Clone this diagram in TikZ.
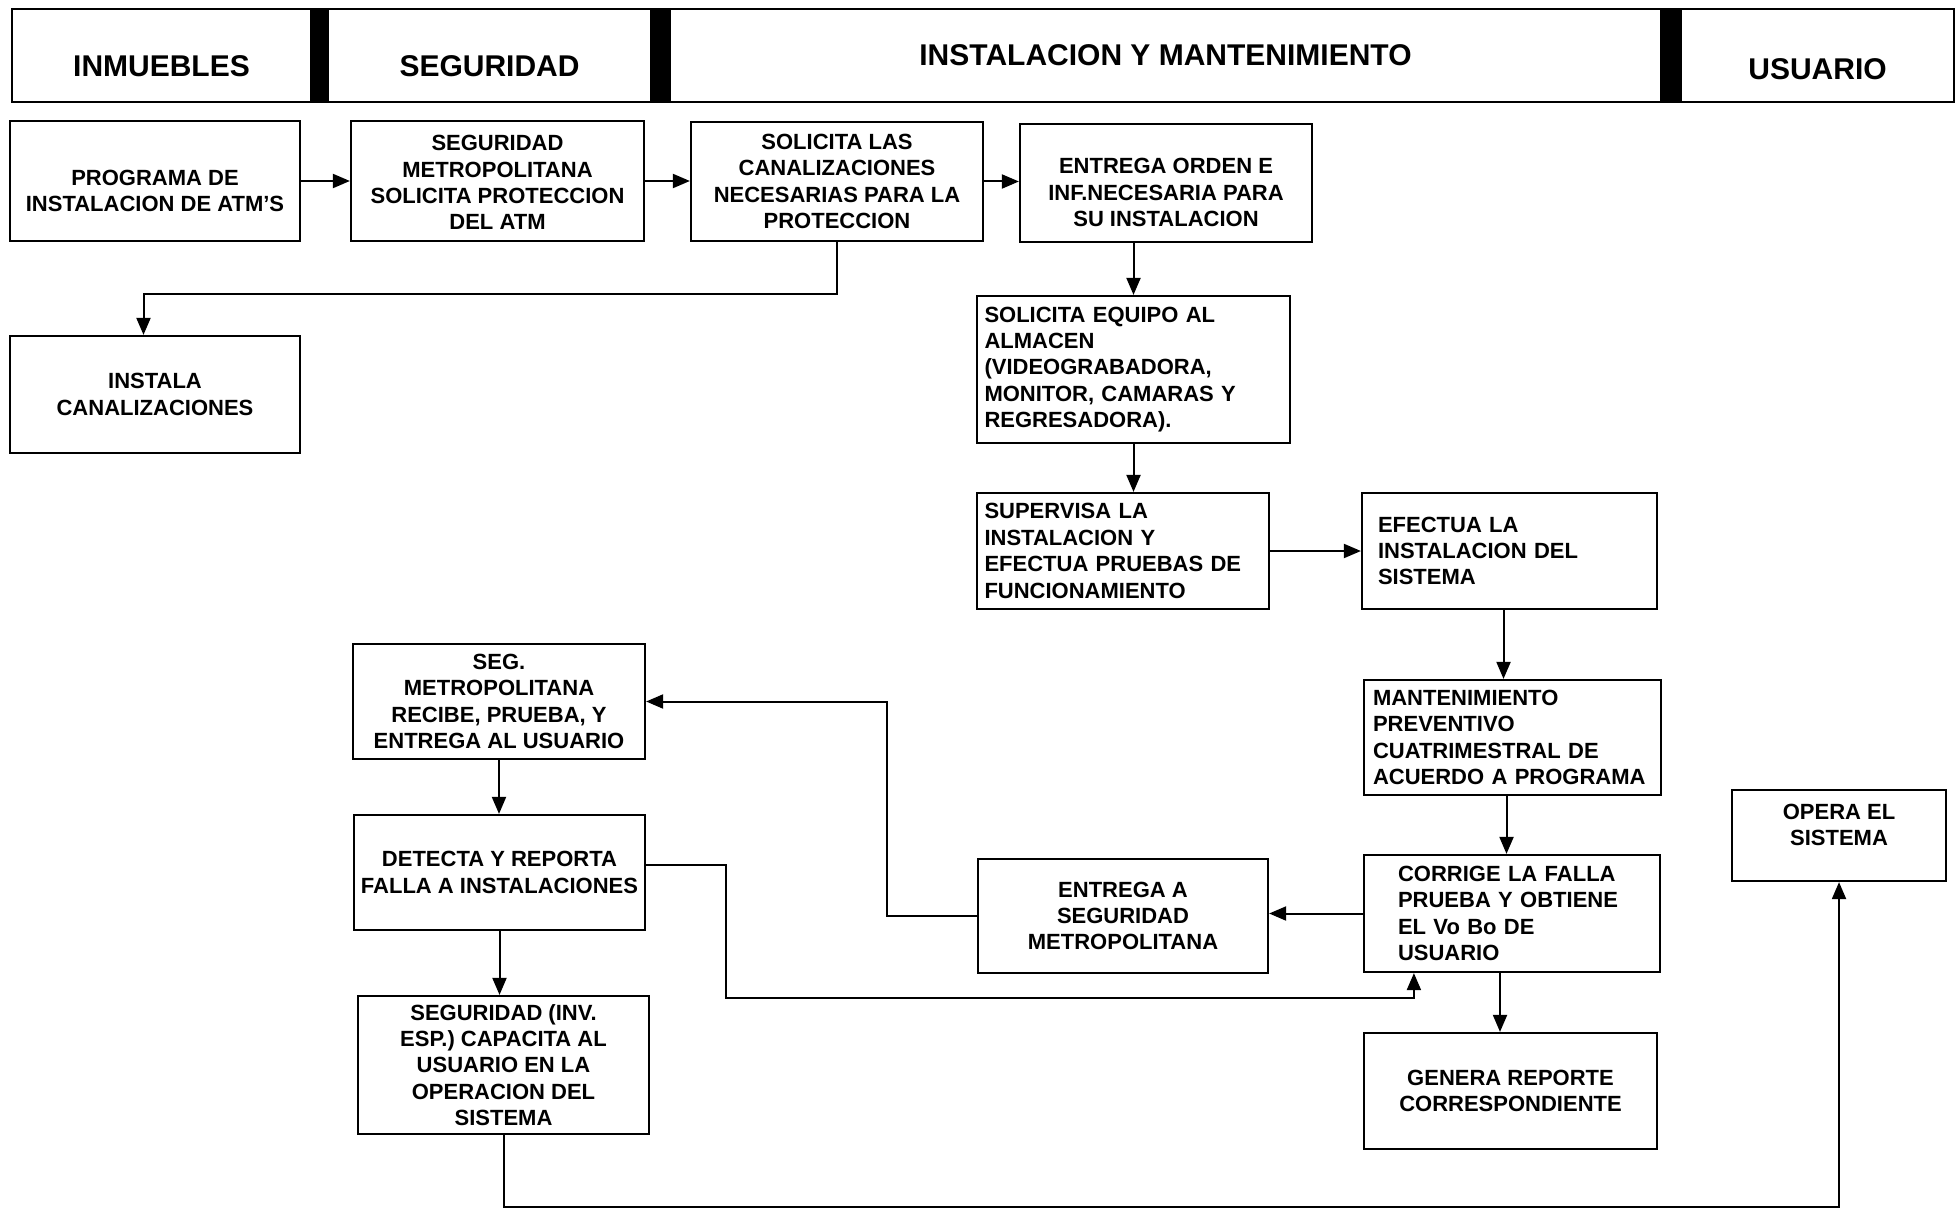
\documentclass[tikz,border=0pt]{standalone}
\usepackage{fontspec}
\setmainfont{Liberation Sans}
\usetikzlibrary{arrows.meta}
\newcommand{\movetxt}[2]{\raisebox{#1}[\height][\depth]{\begin{tabular}{@{}c@{}}#2\end{tabular}}}

\begin{document}
\begin{tikzpicture}[x=0.5pt,y=-0.5pt,>={Triangle[length=8.5pt,width=7pt]},
 box/.style 2 args={draw,line width=1.1pt,inner sep=2pt,minimum width=#1,minimum height=#2,align=center,font=\bfseries\fontsize{11}{13.2}\selectfont},
 lbox/.style n args={3}{box={#1}{#2},align=left,text width=#3},
 hdr/.style={draw,line width=1.1pt,inner sep=0pt,minimum height=46.5pt,font=\bfseries\fontsize{15}{18}\selectfont},
 arr/.style={->,line width=1pt}]
\useasboundingbox (0,0) rectangle (1957,1208);
\node[hdr,minimum width=149.5pt,text height=20.7pt,text depth=0pt] (inm) at (161.5,55.5) {INMUEBLES};
\node[hdr,minimum width=161.5pt,text height=20.7pt,text depth=0pt] (seg) at (489.5,55.5) {SEGURIDAD};
\node[hdr,minimum width=495.5pt] (inst) at (1165.5,55.5) {INSTALACION Y MANTENIMIENTO};
\node[hdr,minimum width=136.5pt,text height=24.2pt,text depth=0pt] (usu) at (1817.5,55.5) {USUARIO};
\fill (inm.north east) rectangle (seg.south west);
\fill (seg.north east) rectangle (inst.south west);
\fill (inst.north east) rectangle (usu.south west);
\node[box={145pt}{60pt}] (prog) at (155,181) {\movetxt{-6pt}{PROGRAMA DE\\INSTALACION DE ATM'S}};
\node[box={146.5pt}{60pt}] (segmet) at (497.5,181) {\movetxt{-2pt}{SEGURIDAD\\METROPOLITANA\\SOLICITA PROTECCION\\DEL ATM}};
\node[box={146pt}{59.5pt}] (solcan) at (837,181.5) {SOLICITA LAS\\CANALIZACIONES\\NECESARIAS PARA LA\\PROTECCION};
\node[box={146pt}{59pt}] (entorden) at (1166,183) {\movetxt{-6pt}{ENTREGA ORDEN E\\INF.NECESARIA PARA\\SU INSTALACION}};
\node[box={145pt}{58.5pt}] (instcan) at (155,394.5) {INSTALA\\CANALIZACIONES};
\node[lbox={156.5pt}{73.5pt}{149pt}] (solequip) at (1133.5,369.5) {SOLICITA EQUIPO AL\\ALMACEN\\(VIDEOGRABADORA,\\MONITOR, CAMARAS Y\\REGRESADORA).};
\node[lbox={146pt}{58pt}{138.5pt}] (superv) at (1123,551) {SUPERVISA LA\\INSTALACION Y\\EFECTUA PRUEBAS DE\\FUNCIONAMIENTO};
\node[lbox={147.5pt}{58pt}{131.5pt}] (efectua) at (1509.5,551) {EFECTUA LA\\INSTALACION DEL\\SISTEMA};
\node[lbox={148.5pt}{57.5pt}{139.5pt}] (mantprev) at (1512.5,737.5) {MANTENIMIENTO\\PREVENTIVO\\CUATRIMESTRAL DE\\ACUERDO A PROGRAMA};
\node[lbox={148pt}{58.5pt}{114pt}] (corrige) at (1512,913.5) {CORRIGE LA FALLA\\PRUEBA Y OBTIENE\\EL Vo Bo DE\\USUARIO};
\node[box={146.5pt}{58pt}] (genera) at (1510.5,1091) {GENERA REPORTE\\CORRESPONDIENTE};
\node[box={107pt}{45.5pt}] (opera) at (1839,835.5) {\movetxt{4pt}{OPERA EL\\SISTEMA}};
\node[box={145pt}{57pt}] (entregaseg) at (1123,916) {ENTREGA A\\SEGURIDAD\\METROPOLITANA};
\node[box={146pt}{57.5pt}] (segrecibe) at (499,701.5) {SEG.\\METROPOLITANA\\RECIBE, PRUEBA, Y\\ENTREGA AL USUARIO};
\node[box={145.5pt}{57.5pt}] (detecta) at (499.5,872.5) {DETECTA Y REPORTA\\FALLA A INSTALACIONES};
\node[box={145.5pt}{69pt}] (capacita) at (503.5,1065) {SEGURIDAD (INV.\\ESP.) CAPACITA AL\\USUARIO EN LA\\OPERACION DEL\\SISTEMA};
\draw[arr] (prog) -- (segmet);
\draw[arr] (segmet.east) -- (segmet.east -| solcan.west);
\draw[arr] (solcan.east) -- (solcan.east -| entorden.west);
\draw[arr] (solcan.south) -- ++(0,52) -| ([xshift=-5.75pt]instcan.north);
\draw[arr] (entorden.south -| solequip.north) -- (solequip.north);
\draw[arr] (solequip.south) -- (solequip.south |- superv.north);
\draw[arr] (superv) -- (efectua);
\draw[arr] ([xshift=-3pt]efectua.south) -- ([xshift=-3pt]efectua.south |- mantprev.north);
\draw[arr] ([xshift=-3pt]mantprev.south) -- ([xshift=-3pt]mantprev.south |- corrige.north);
\draw[arr] (corrige.west) -- (corrige.west -| entregaseg.east);
\draw[arr] (entregaseg.west) -- ++(-90,0) |- (segrecibe.east);
\draw[arr] (segrecibe.south) -- (segrecibe.south |- detecta.north);
\draw[arr] ([yshift=4pt]detecta.east) -- ++(80,0) -- ++(0,133) -| ([xshift=25.5pt]corrige.south west);
\draw[arr] (detecta.south) -- (detecta.south |- capacita.north);
\draw[arr] ([xshift=-6pt]corrige.south) -- ([xshift=-6pt]corrige.south |- genera.north);
\draw[arr] (capacita.south) -- ++(0,72) -| (opera.south);
\end{tikzpicture}
\end{document}
